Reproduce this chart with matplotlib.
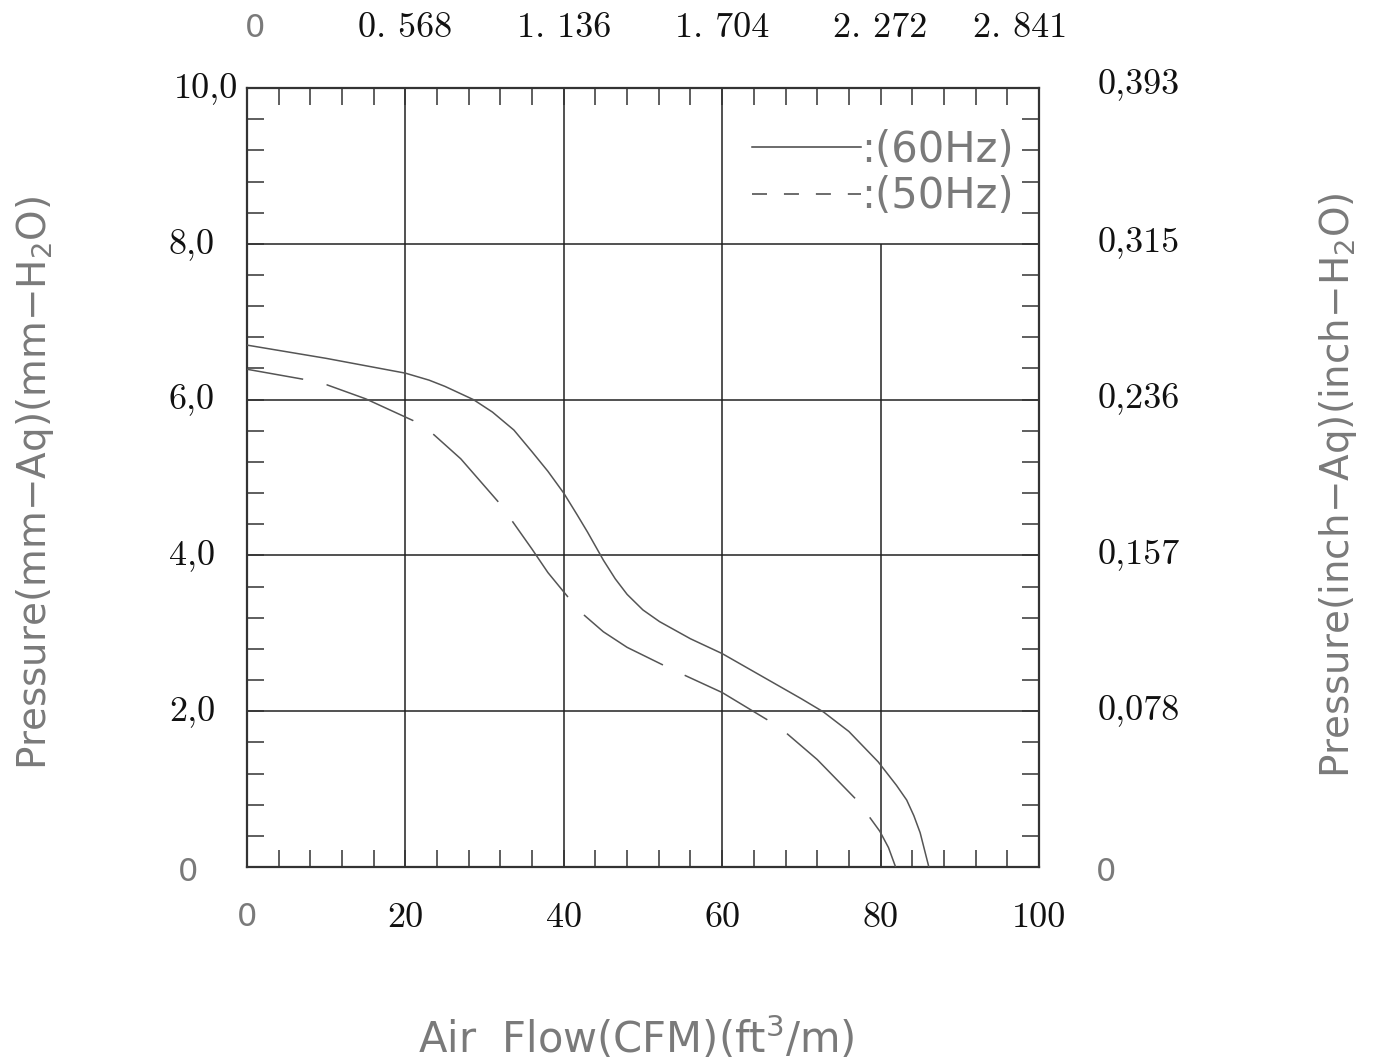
import numpy as np
import matplotlib
matplotlib.use("Agg")
import matplotlib.pyplot as plt
from matplotlib.lines import Line2D

plt.rcParams['lines.scale_dashes'] = False

# 60Hz curve (solid)
flow_60 = [0, 10, 20, 23, 25, 28.6, 31, 33.7, 36, 38, 40, 41.7, 43, 45, 46.5, 48, 50,
           52.1, 56, 60, 65, 70, 72.8, 76, 79.7, 82, 83.3, 84.2, 85, 86.1]
pres_60 = [6.70, 6.53, 6.34, 6.25, 6.17, 6.00, 5.84, 5.61, 5.33, 5.08, 4.80, 4.52, 4.30,
           3.94, 3.70, 3.50, 3.30, 3.15, 2.93, 2.74, 2.45, 2.16, 1.99, 1.74, 1.35, 1.05,
           0.86, 0.66, 0.44, 0.0]

# 50Hz curve (dashed)
flow_50 = [0, 7.2, 10.1, 15, 21, 23.6, 27, 31.8, 33.5, 36, 38, 40.5, 42.5, 45, 48, 52.6,
           55.3, 60, 65.7, 68.1, 72, 76.8, 78.4, 79.9, 81, 81.9]
pres_50 = [6.39, 6.26, 6.19, 6.01, 5.73, 5.55, 5.24, 4.68, 4.44, 4.08, 3.78, 3.47, 3.24,
           3.02, 2.82, 2.59, 2.46, 2.24, 1.89, 1.72, 1.38, 0.88, 0.67, 0.46, 0.25, 0.0]

# tick labels
x_ticks = [0, 20, 40, 60, 80, 100]
x_labels = ["0", "20", "40", "60", "80", "100"]
y_ticks = [0, 2, 4, 6, 8, 10]
y_labels = ["0", "2,0", "4,0", "6,0", "8,0", "10,0"]
y2_labels = ["0", "0,078", "0,157", "0,236", "0,315", "0,393"]
top_pos = [0, 20, 40, 60, 80, 97.6]
top_labels = ["0", "0. 568", "1. 136", "1. 704", "2. 272", "2. 841"]

serif = 'cmr10'
sans = 'DejaVu Sans'
dark = '#222222'
grey_txt = '#7a7a7a'

fig = plt.figure(figsize=(13.75, 10.62), dpi=100)
ax = fig.add_axes([0.1796, 0.1836, 0.576, 0.7335])
ax.set_xlim(0, 100)
ax.set_ylim(0, 10)

# grid (the 80 line stops under the legend)
for gx in [20, 40, 60]:
    ax.axvline(gx, color=dark, lw=1.1, zorder=1)
ax.vlines(80, 0, 8, color=dark, lw=1.1, zorder=1)
for gy in [2, 4, 6, 8]:
    ax.axhline(gy, color=dark, lw=1.1, zorder=1)

ax.plot(flow_60, pres_60, color='#555555', lw=1.1, zorder=3, solid_joinstyle='round')
ax.plot(flow_50, pres_50, color='#555555', lw=1.1, zorder=3,
        linestyle=(26.6, (67.7, 17.3)), dash_joinstyle='round')

for s in ax.spines.values():
    s.set_color('#333333')
    s.set_linewidth(1.6)

ax.set_xticks(np.arange(0, 101, 4))
ax.set_yticks(np.arange(0, 10.01, 0.4))
ax.tick_params(direction='in', length=12.2, width=1.1, color='#333333',
               top=True, right=True, labelbottom=False, labelleft=False)

# tick labels drawn as text
ytr = ax.get_yaxis_transform()
xtr = ax.get_xaxis_transform()
for v, lbl in zip(y_ticks, y_labels):
    if lbl == "0":
        ax.annotate(lbl, xy=(0, v), xycoords=ytr, xytext=(-42.5, -3.6),
                    textcoords='offset points', ha='center', va='center',
                    fontsize=23, family=sans, color=grey_txt)
    else:
        dx = -6.5 if lbl == "10,0" else -23
        ax.annotate(lbl, xy=(0, v), xycoords=ytr, xytext=(dx, 0),
                    textcoords='offset points', ha='right', va='center',
                    fontsize=26, family=serif, color='#111111')
for v, lbl in zip(y_ticks, y2_labels):
    if lbl == "0":
        ax.annotate(lbl, xy=(1, v), xycoords=ytr, xytext=(48, -3.6),
                    textcoords='offset points', ha='center', va='center',
                    fontsize=23, family=sans, color=grey_txt)
    else:
        dy = 3 if lbl == "0,393" else 1
        ax.annotate(lbl, xy=(1, v), xycoords=ytr, xytext=(42.5, dy),
                    textcoords='offset points', ha='left', va='center',
                    fontsize=26, family=serif, color='#111111')
for v, lbl in zip(x_ticks, x_labels):
    fam, fs, col = (sans, 23, grey_txt) if lbl == "0" else (serif, 26, '#111111')
    ax.annotate(lbl, xy=(v, 0), xycoords=xtr, xytext=(0, -36.7),
                textcoords='offset points', ha='center', va='center',
                fontsize=fs, family=fam, color=col)
for v, lbl in zip(top_pos, top_labels):
    fam, fs, col = (sans, 23, grey_txt) if lbl == "0" else (serif, 26, '#111111')
    dx = 5.5 if lbl == "0" else 0
    ax.annotate(lbl, xy=(v, 1), xycoords=xtr, xytext=(dx, 43),
                textcoords='offset points', ha='center', va='center',
                fontsize=fs, family=fam, color=col)

# axis titles
fig.text(0.0255, 0.545, "Pressure(mm−Aq)(mm−H$_2$O)", rotation=90,
         ha='center', va='center', fontsize=28, family=sans, color=grey_txt)
fig.text(0.973, 0.543, "Pressure(inch−Aq)(inch−H$_2$O)", rotation=90,
         ha='center', va='center', fontsize=28, family=sans, color=grey_txt)
fig.text(0.463, 0.0226, "Air  Flow(CFM)(ft$^3$/m)",
         ha='center', va='center', fontsize=30, family=sans, color=grey_txt)

# legend
handles = [Line2D([], [], color='#444444', lw=1.1),
           Line2D([], [], color='#444444', lw=1.1, linestyle=(0, (10.8, 12.2)))]
leg = ax.legend(handles, [":(60Hz)", ":(50Hz)"], loc='upper right',
                bbox_to_anchor=(0.968, 0.948), frameon=False, fontsize=30,
                handlelength=2.62, handletextpad=0.0, labelspacing=0.11,
                borderpad=0, borderaxespad=0)
for t in leg.get_texts():
    t.set_color(grey_txt)

fig.savefig("out.png", dpi=100, facecolor='white')
